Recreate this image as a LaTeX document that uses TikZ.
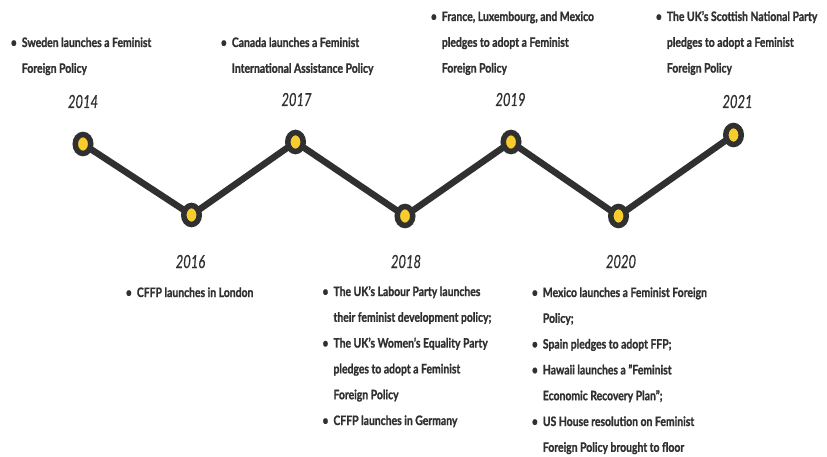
\documentclass[tikz,border=0pt]{standalone}
\usepackage{fontspec}
\setmainfont{Lato}[FakeStretch=0.8,BoldFeatures={FakeBold=1.2}]
\usetikzlibrary{shapes.geometric,backgrounds}
\definecolor{ink}{HTML}{303030}
\definecolor{gold}{HTML}{F8CC2C}
\tikzset{
  font={\fontsize{13pt}{25.8pt}\selectfont\bfseries}}

\begin{document}
\begin{tikzpicture}[x=1pt,y=1pt]
\tikzstyle{every node}+=[inner sep=0pt,text=ink]
\tikzstyle{stop}=[ellipse,draw=ink,line width=5.5pt,fill=gold,minimum width=15.5pt,minimum height=19pt]
\tikzstyle{year}=[anchor=base,font={\fontsize{18pt}{18pt}\selectfont\mdseries\itshape\addfontfeature{FakeStretch=0.72,FakeBold=0.5}}]
\tikzstyle{event}=[anchor=base west,align=left]
\newcommand{\bul}{\llap{\textbullet\hspace{5pt}}}
\useasboundingbox (0,0) rectangle (827,-457);
% timeline points
\node [stop] (p2014) at (83,-144) {};
\node [stop] (p2016) at (191.5,-215) {};
\node [stop] (p2017) at (295.5,-142) {};
\node [stop] (p2018) at (405,-216) {};
\node [stop] (p2019) at (511,-142) {};
\node [stop] (p2020) at (618.5,-216) {};
\node [stop] (p2021) at (733.5,-135) {};
\begin{scope}[on background layer]
\draw [ink,line width=6.5pt,line join=round] (p2014.center) -- (p2016.center) -- (p2017.center) -- (p2018.center)
  -- (p2019.center) -- (p2020.center) -- (p2021.center);
\end{scope}
% years
\node [year] (y2014) at (83,-108) {2014};
\node [year] (y2017) at (296.5,-106) {2017};
\node [year] (y2019) at (510.5,-106) {2019};
\node [year] (y2021) at (737.5,-108) {2021};
\node [year] (y2016) at (190.5,-268) {2016};
\node [year] (y2018) at (406,-268) {2018};
\node [year] (y2020) at (621,-268) {2020};
% events (placed by the baseline of their last line)
\node [event] (e2014) at (21.7,-72.8) {\bul Sweden launches a Feminist\\Foreign Policy};
\node [event] (e2017) at (231.7,-72.8) {\bul Canada launches a Feminist\\International Assistance Policy};
\node [event] (e2019) at (441.7,-72.6) {\bul France, Luxembourg, and Mexico\\pledges to adopt a Feminist\\Foreign Policy};
\node [event] (e2021) at (666.7,-72.6) {\bul The UK's Scottish National Party\\pledges to adopt a Feminist\\Foreign Policy};
\node [event] (e2016) at (136.7,-297) {\bul CFFP launches in London};
\node [event] (e2018) at (333.3,-425) {\bul The UK's Labour Party launches\\their feminist development policy;\\
  \bul The UK's Women's Equality Party\\pledges to adopt a Feminist\\Foreign Policy\\\bul CFFP launches in Germany};
\node [event] (e2020) at (542.7,-451.8) {\bul Mexico launches a Feminist Foreign\\Policy;\\\bul Spain pledges to adopt FFP;\\
  \bul Hawaii launches a "Feminist\\Economic Recovery Plan";\\\bul US House resolution on Feminist\\Foreign Policy brought to floor};
\end{tikzpicture}
\end{document}
